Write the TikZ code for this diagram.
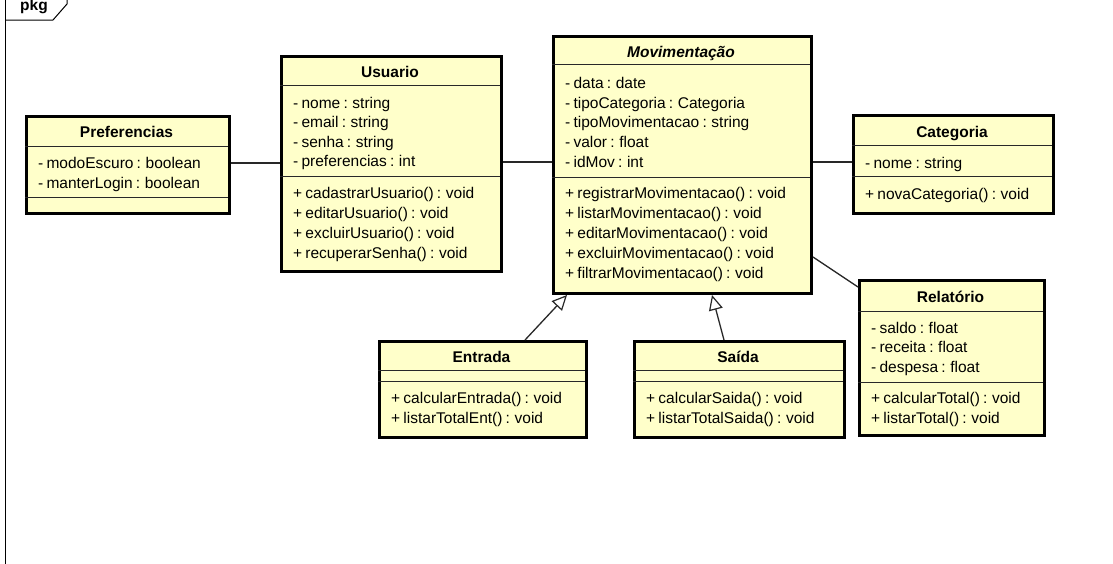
\documentclass[tikz,border=0pt]{standalone}
\usepackage{fontspec}
\setmainfont{Liberation Sans}
\usetikzlibrary{arrows.meta,calc}
\definecolor{clsfill}{RGB}{255,255,202}
\definecolor{sepc}{RGB}{40,40,40}
\definecolor{linec}{RGB}{40,40,40}
\newcommand{\umlfont}{\fontsize{15.5}{20}\selectfont\spaceskip=3.2pt plus 1pt\relax}
\tikzset{
  cls/.style={draw=black, line width=3pt, fill=clsfill, inner sep=0pt, anchor=north west},
  sep/.style={draw=sepc, line width=1pt},
  ttl/.style={font=\umlfont\bfseries, inner sep=0pt, anchor=base},
  ttli/.style={font=\umlfont\bfseries\itshape, inner sep=0pt, anchor=base},
  mem/.style={font=\umlfont, inner sep=0pt, anchor=base west},
  assoc/.style={draw=linec, line width=1.3pt},
  gen/.style={draw=linec, line width=1.3pt, -{Triangle[open, length=15pt, width=14pt, line width=1.2pt]}},
  frm/.style={draw=black, line width=1pt}
}
\begin{document}
\begin{tikzpicture}[x=1pt, y=-1pt]
\useasboundingbox (0,0) rectangle (1113,563);
\fill[white] (0,0) rectangle (1113,563);
% frame
\draw[frm] (5,570) -- (5,-2);
\draw[frm] (5,20) -- (53,20) -- (67,4) -- (67,-2);
\node[font=\fontsize{15.5}{18}\selectfont\bfseries, inner sep=0pt, anchor=base west] (pkg) at (20,10.5) {pkg};

% Preferencias
\node[cls, minimum width=203pt, minimum height=97pt] (pref) at (25,115) {};
\draw[sep] (25,146) -- (228,146);
\draw[sep] (25,197) -- (228,197);
\node[ttl] (preft) at (126.5,137) {Preferencias};
\node[mem] (pref1) at (38,168) {- modoEscuro : boolean};
\node[mem] (pref2) at (38,188) {- manterLogin : boolean};

% Usuario
\node[cls, minimum width=220pt, minimum height=215pt] (usr) at (280,55) {};
\draw[sep] (280,85) -- (500,85);
\draw[sep] (280,176) -- (500,176);
\node[ttl] (usrt) at (390,77) {Usuario};
\node[mem] (u1) at (293,108) {- nome : string};
\node[mem] (u2) at (293,127.5) {- email : string};
\node[mem] (u3) at (293,147) {- senha : string};
\node[mem] (u4) at (293,166.5) {- preferencias : int};
\node[mem] (u5) at (293,198.5) {+ cadastrarUsuario() : void};
\node[mem] (u6) at (293,218.5) {+ editarUsuario() : void};
\node[mem] (u7) at (293,238.5) {+ excluirUsuario() : void};
\node[mem] (u8) at (293,258.5) {+ recuperarSenha() : void};

% Movimentacao
\node[cls, minimum width=258pt, minimum height=257pt] (mov) at (552,35) {};
\draw[sep] (552,64) -- (810,64);
\draw[sep] (552,177) -- (810,177);
\node[ttli] (movt) at (681,57) {Movimentação};
\node[mem] (m1) at (565,88.5) {- data : date};
\node[mem] (m2) at (565,108) {- tipoCategoria : Categoria};
\node[mem] (m3) at (565,127.5) {- tipoMovimentacao : string};
\node[mem] (m4) at (565,147) {- valor : float};
\node[mem] (m5) at (565,167) {- idMov : int};
\node[mem] (m6) at (565,198.5) {+ registrarMovimentacao() : void};
\node[mem] (m7) at (565,218.5) {+ listarMovimentacao() : void};
\node[mem] (m8) at (565,238.5) {+ editarMovimentacao() : void};
\node[mem] (m9) at (565,258.5) {+ excluirMovimentacao() : void};
\node[mem] (m10) at (565,278.5) {+ filtrarMovimentacao() : void};

% Categoria
\node[cls, minimum width=200pt, minimum height=98pt] (cat) at (852,114) {};
\draw[sep] (852,145) -- (1052,145);
\draw[sep] (852,176) -- (1052,176);
\node[ttl] (catt) at (952,137) {Categoria};
\node[mem] (c1) at (865,168) {- nome : string};
\node[mem] (c2) at (865,199.5) {+ novaCategoria() : void};

% Relatorio
\node[cls, minimum width=185pt, minimum height=155pt] (rel) at (858,279) {};
\draw[sep] (858,311) -- (1043,311);
\draw[sep] (858,382) -- (1043,382);
\node[ttl] (relt) at (950.5,302) {Relatório};
\node[mem] (r1) at (871,333) {- saldo : float};
\node[mem] (r2) at (871,352.5) {- receita : float};
\node[mem] (r3) at (871,372) {- despesa : float};
\node[mem] (r4) at (871,403.5) {+ calcularTotal() : void};
\node[mem] (r5) at (871,423.5) {+ listarTotal() : void};

% Entrada
\node[cls, minimum width=207pt, minimum height=96pt] (ent) at (378,340) {};
\draw[sep] (378,370) -- (585,370);
\draw[sep] (378,381) -- (585,381);
\node[ttl] (entt) at (481.5,362) {Entrada};
\node[mem] (e1) at (391,403.5) {+ calcularEntrada() : void};
\node[mem] (e2) at (391,423) {+ listarTotalEnt() : void};

% Saida
\node[cls, minimum width=210pt, minimum height=96pt] (sai) at (633,340) {};
\draw[sep] (633,370) -- (843,370);
\draw[sep] (633,381) -- (843,381);
\node[ttl] (sait) at (738,362) {Saída};
\node[mem] (s1) at (646,403.5) {+ calcularSaida() : void};
\node[mem] (s2) at (646,423) {+ listarTotalSaida() : void};

% connectors
\draw[assoc] ($(pref.north east)+(0,48)$) -- ($(usr.north west)+(0,108)$);
\draw[assoc] ($(usr.north east)+(0,107)$) -- ($(mov.north west)+(0,127)$);
\draw[assoc] ($(mov.north east)+(0,127)$) -- ($(cat.north west)+(0,48)$);
\draw[assoc] ($(mov.north east)+(0,222)$) -- ($(rel.north west)+(0,8)$);
\draw[gen] ($(ent.north west)+(147,0)$) -- ($(mov.south west)+(15,0)$);
\draw[gen] ($(sai.north west)+(91,0)$) -- ($(mov.south west)+(160,0)$);
\end{tikzpicture}
\end{document}
